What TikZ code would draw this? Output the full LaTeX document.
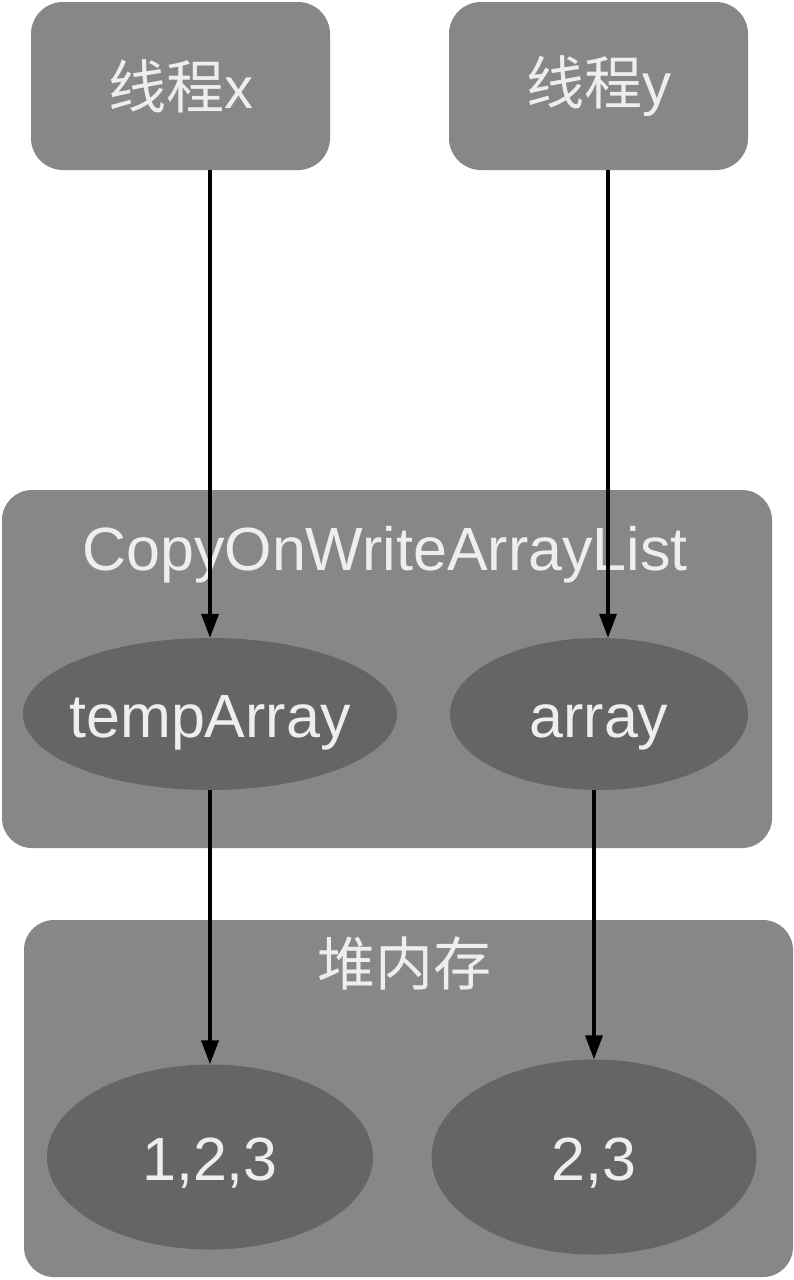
\documentclass[tikz,border=0pt]{standalone}
\usepackage{fontspec}
\setmainfont{Liberation Sans}
\newfontfamily\cjk{Noto Sans CJK SC}
\usetikzlibrary{shapes.geometric,arrows.meta}
\definecolor{boxgray}{HTML}{878787}
\definecolor{ellgray}{HTML}{656565}
\definecolor{txtgray}{HTML}{EEEEEE}
\begin{document}
\begin{tikzpicture}[x=1pt,y=-1pt,
  thread/.style={fill=boxgray,rounded corners=32pt,minimum width=299pt,minimum height=168pt,inner sep=0pt,text=txtgray,font=\fontsize{58}{60}\selectfont},
  group/.style={fill=boxgray,rounded corners=30pt,inner sep=0pt},
  title/.style={text=txtgray,inner sep=0pt,anchor=base},
  oval/.style={ellipse,fill=ellgray,inner xsep=-30pt,inner ysep=-10pt,text height=46pt,text depth=0pt,text=txtgray,font=\fontsize{61}{64}\selectfont},
  arr/.style={line width=3.5pt,-{Triangle[length=24pt,width=17pt]}}]
\fill[white] (0,0) rectangle (793,1280);
\useasboundingbox (0,0) rectangle (793,1280);
% thread boxes
\node[thread] (tx) at (180.5,86) {{\cjk 线程}x};
\node[thread] (ty) at (598.5,86) {{\cjk 线程}y};
% containers
\node[group,minimum width=770pt,minimum height=358pt] (cow) at (387,669) {};
\node[title,font=\fontsize{61}{64}\selectfont] (cowt) at (385,570) {CopyOnWriteArrayList};
\node[group,minimum width=769pt,minimum height=357pt] (heap) at (408.5,1098.5) {};
\node[title,font=\fontsize{58}{60}\selectfont\cjk] (heapt) at (404,985) {堆内存};
% ellipses
\node[oval,minimum width=374pt,minimum height=152pt] (ta) at (210,714) {tempArray};
\node[oval,minimum width=298pt,minimum height=152pt] (ar) at (599,714) {array};
\node[oval,minimum width=326pt,minimum height=185pt] (n123) at (210,1157) {1,2,3};
\node[oval,minimum width=325pt,minimum height=195pt] (n23) at (594,1157) {2,3};
% arrows
\draw[arr] (ta.north |- tx.south) -- (ta.north);
\draw[arr] ([xshift=9pt]ar.north |- ty.south) -- ([xshift=9pt]ar.north);
\draw[arr] (ta.south) -- (n123.north);
\draw[arr] (ar.south -| n23.north) -- (n23.north);
\end{tikzpicture}
\end{document}
